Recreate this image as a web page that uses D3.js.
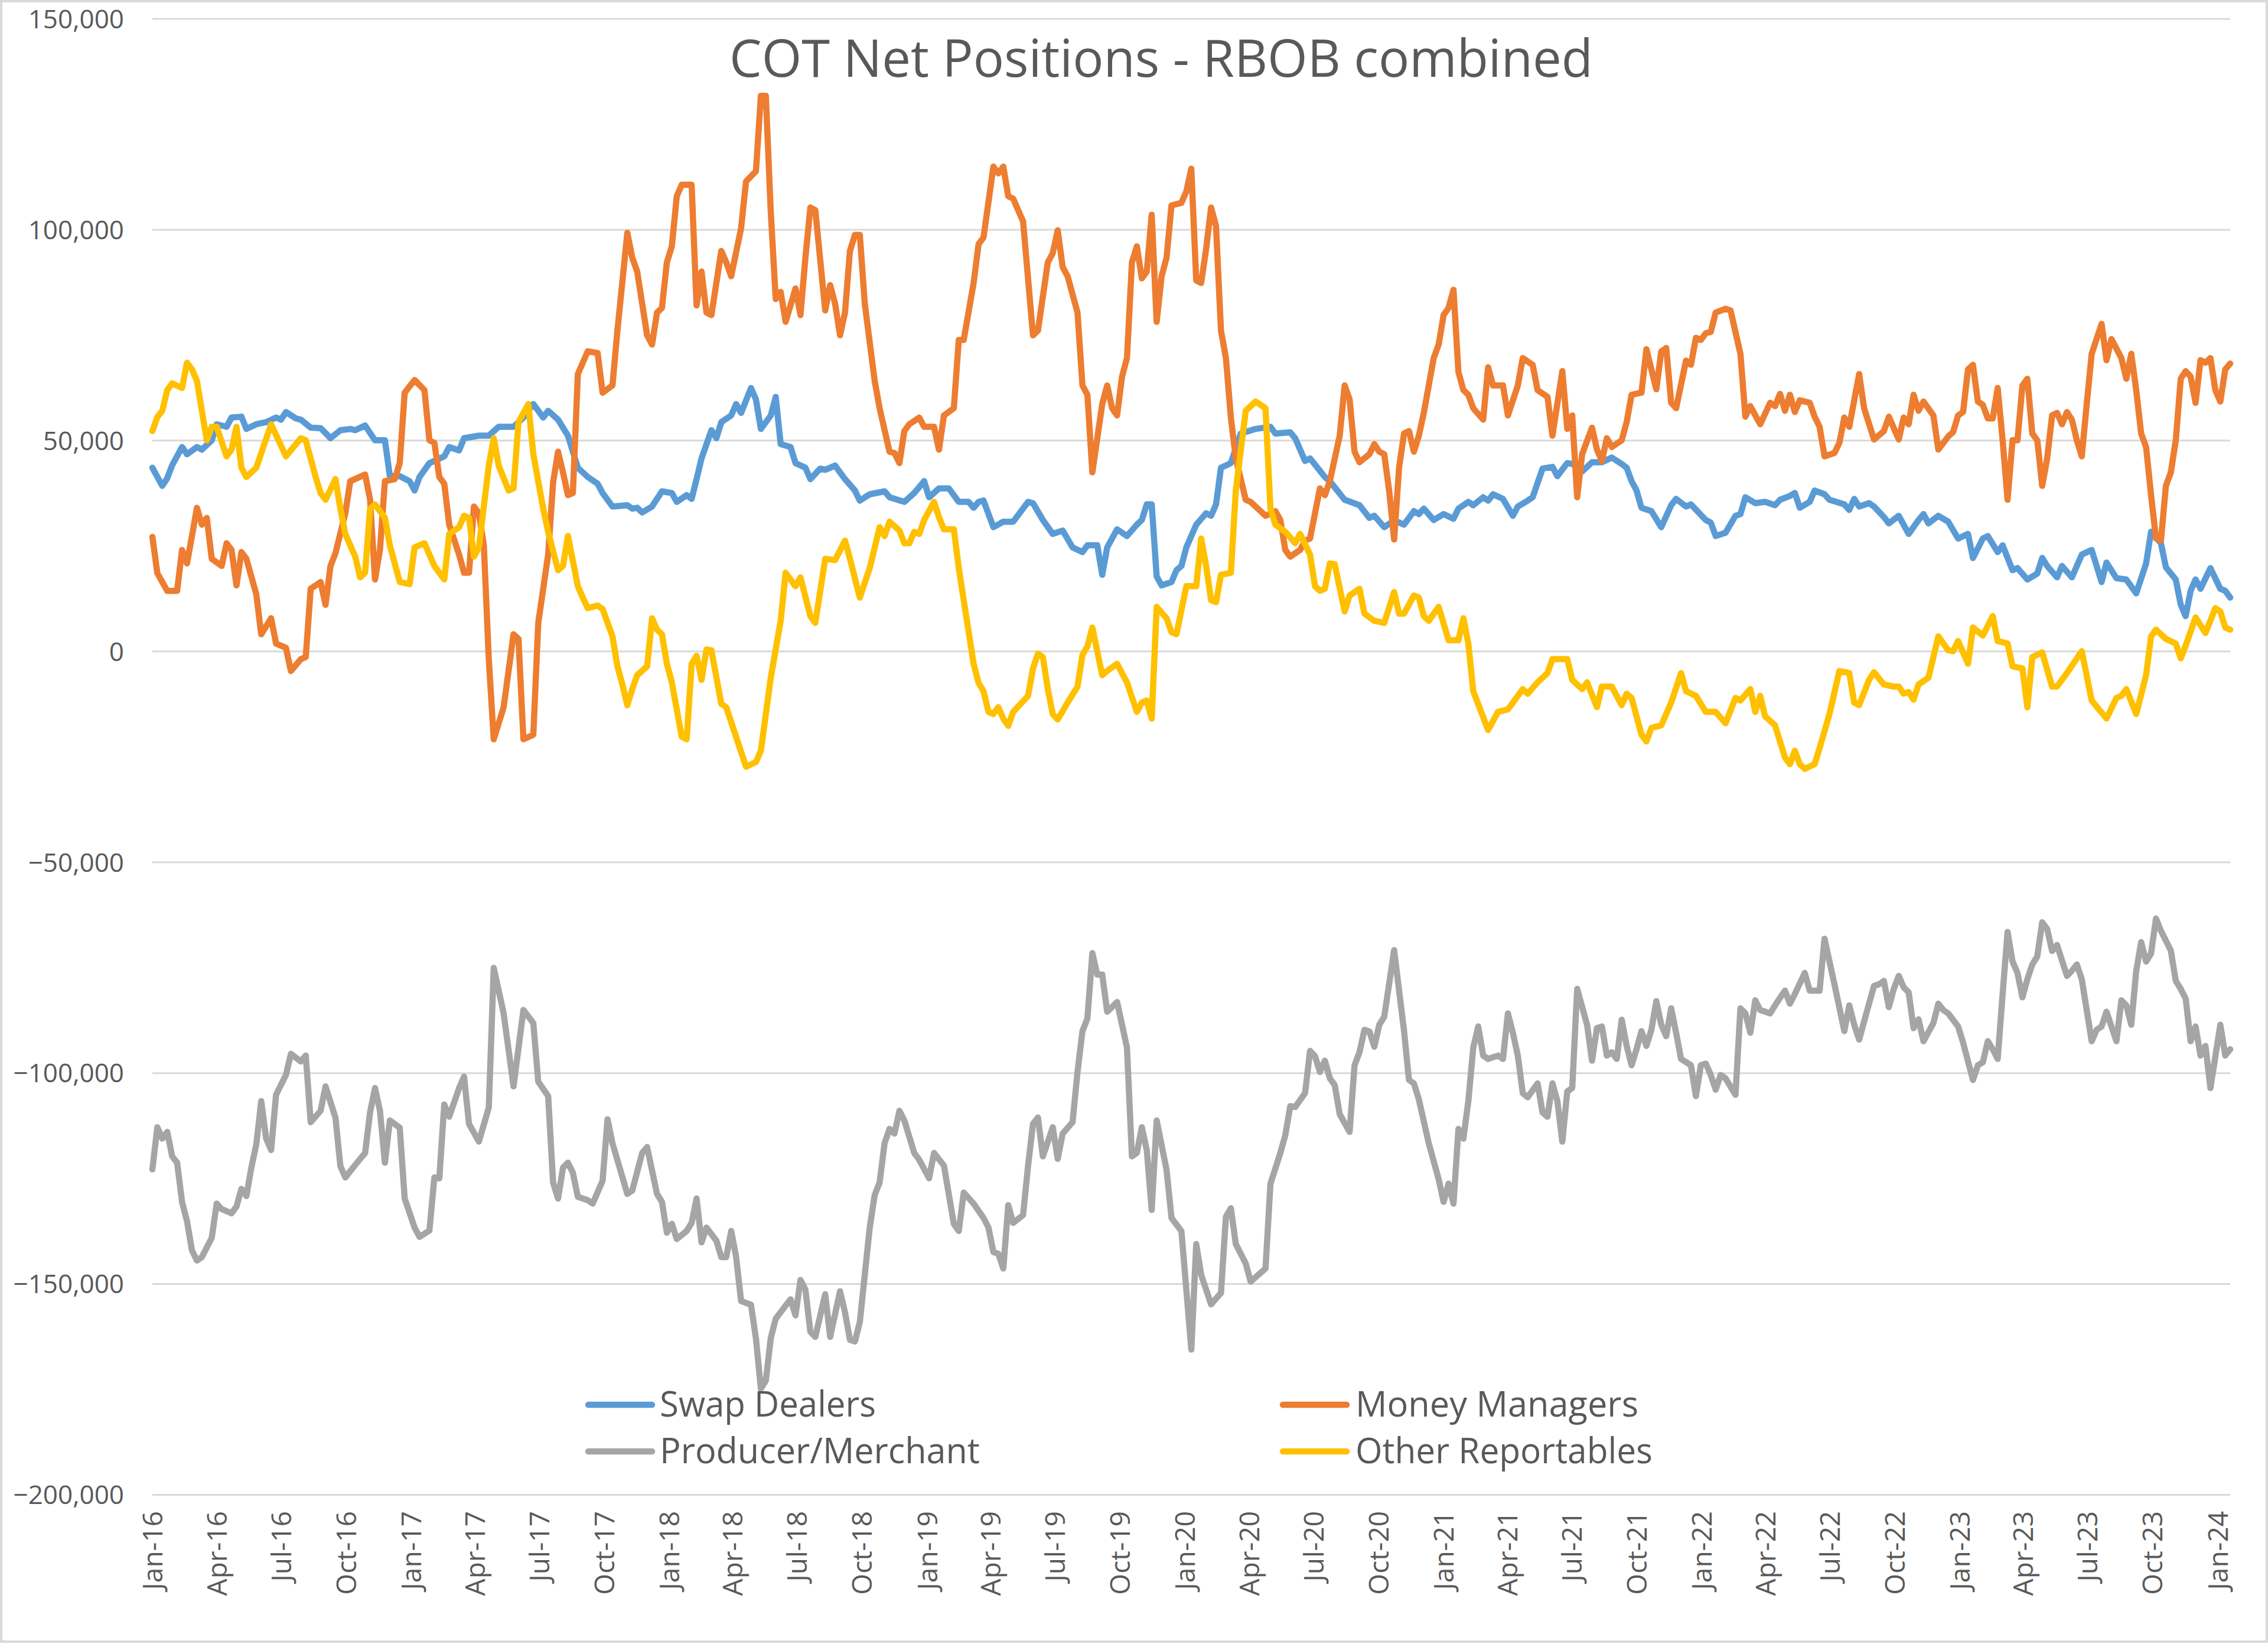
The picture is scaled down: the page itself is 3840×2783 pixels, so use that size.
<!DOCTYPE html>
<html><head><meta charset="utf-8">
<script src="https://cdn.jsdelivr.net/npm/d3@7"></script>
<style>html,body{margin:0;padding:0;background:#fff}svg{display:block}</style>
</head><body>
<script>
// ---------- DATA (weekly COT reports, week index counted from 5 Jan 2016) ----------
const startDateStr = "2016-01-05";
const lastWeek = 420;
const tickLabels = ["Jan-16","Apr-16","Jul-16","Oct-16","Jan-17","Apr-17","Jul-17","Oct-17","Jan-18","Apr-18","Jul-18","Oct-18","Jan-19","Apr-19","Jul-19","Oct-19","Jan-20","Apr-20","Jul-20","Oct-20","Jan-21","Apr-21","Jul-21","Oct-21","Jan-22","Apr-22","Jul-22","Oct-22","Jan-23","Apr-23","Jul-23","Oct-23","Jan-24"];
const yTickValues = [150000,100000,50000,0,-50000,-100000,-150000,-200000];
const seriesNames = ["Swap Dealers","Money Managers","Producer/Merchant","Other Reportables"];
const seriesColors = ["#5B9BD5","#ED7D31","#A5A5A5","#FFC000"];

const swapWeeks = [0,2,3,4,6,7,9,10,12,13,15,16,18,19,21,23,25,26,27,29,30,32,34,36,38,40,41,43,45,47,48,50,52,53,54,56,59,60,62,63,66,68,70,73,75,77,79,80,82,84,86,88,90,91,93,96,97,98,99,101,103,105,106,108,109,110,111,113,114,115,117,118,119,121,122,123,125,126,127,129,130,132,133,135,136,138,140,142,143,145,148,149,152,154,156,157,159,161,163,165,166,167,168,170,172,174,177,178,180,182,184,186,188,189,191,192,193,195,197,199,200,201,202,203,204,206,207,208,209,211,213,214,215,216,218,220,223,226,227,230,231,233,234,237,238,241,244,246,247,249,251,253,255,256,257,259,261,263,264,266,267,269,270,271,273,275,276,278,279,281,283,284,286,287,289,291,293,295,297,298,299,300,301,303,305,307,308,310,311,314,315,316,318,320,321,322,324,326,328,329,331,332,333,335,336,338,339,342,343,344,345,347,348,350,351,353,355,357,358,359,361,363,365,367,368,370,371,373,374,376,377,379,381,382,383,385,386,388,390,392,394,395,397,399,401,403,404,406,407,409,410,411,412,413,414,416,418,419,420];
const swapValues = [43500,39200,41000,44100,48400,46700,48400,47800,50000,53800,53200,55400,55600,52700,53800,54300,55400,54900,56700,55200,54900,53000,52900,50500,52400,52700,52400,53500,50000,50000,41500,41500,40300,38100,41300,44600,46200,48400,47600,50500,51100,51100,53200,53200,55400,58600,55400,57000,54900,51100,43500,41300,39700,37500,34300,34600,33800,34000,32900,34300,37900,37500,35400,37000,36100,40800,45700,52400,50500,54300,55900,58600,56500,62400,59700,52700,55900,60300,49100,48400,44600,43500,40800,43300,43000,44000,40800,38100,35700,37200,37900,36500,35400,37500,40300,36500,38600,38600,35400,35400,34000,35400,35700,29400,30700,30700,35400,35100,31100,27800,28600,24600,23500,25100,25100,18100,24600,28900,27300,30000,31100,34800,34800,17700,15600,16400,19200,20200,24600,30000,32700,32100,34800,43500,44600,51600,52700,53200,51600,51900,50500,45100,45700,41300,40300,35900,34600,31600,32100,29400,31000,30000,33200,32500,33800,31100,32500,31400,33800,35400,34600,36500,35700,37200,36100,32100,34300,35700,36500,43300,43700,41500,44600,44400,42600,44800,44800,45900,44400,43500,40300,38100,34000,33200,29400,34600,36100,34300,34800,31100,30500,27300,28100,32100,32500,36500,35100,35400,34600,35900,36800,37500,34000,35400,38100,37200,35900,34800,33500,36100,34300,35100,34300,31800,30300,32100,27800,31100,32500,30300,32100,30700,26700,27800,22100,26700,27300,23500,25100,19200,19700,17000,18400,22100,20200,17500,20200,17500,22900,24000,16400,21000,17300,17000,13700,20800,28300,25600,19900,17000,11000,8300,14300,17000,14800,19700,14800,14300,12700];

const mmWeeks = [0,1,3,5,6,7,8,9,10,11,12,14,15,16,17,18,19,21,22,24,25,27,28,30,31,32,34,35,36,37,39,40,43,44,45,46,47,49,50,51,53,55,56,57,58,59,60,62,63,64,65,66,67,68,69,71,73,74,75,77,78,80,81,82,83,84,85,86,88,90,91,93,94,96,97,98,100,101,102,103,104,105,106,107,109,110,111,112,113,115,116,117,119,120,122,123,124,125,126,127,128,130,131,132,133,134,136,137,138,139,140,141,142,143,144,146,147,149,150,151,152,153,155,156,158,159,160,162,163,164,166,167,168,170,171,172,173,174,176,178,179,181,182,183,184,185,187,188,189,190,192,193,194,195,196,197,198,199,200,201,202,203,204,205,206,208,209,210,211,212,213,214,215,216,217,218,219,221,222,224,225,227,228,229,230,232,233,234,236,237,238,240,241,242,243,244,246,247,248,249,250,251,252,253,254,255,256,257,259,260,261,262,263,264,265,266,267,269,270,271,273,274,276,277,279,280,282,283,285,286,287,288,289,291,292,293,294,295,297,298,299,301,302,304,305,306,307,308,310,311,312,313,314,315,316,318,319,321,322,323,325,327,328,329,330,331,332,333,335,336,337,338,340,341,342,343,345,346,348,350,351,353,354,355,356,357,358,360,361,363,364,365,366,367,368,369,370,371,372,373,374,375,376,377,378,379,380,381,382,383,384,385,386,387,388,389,390,391,392,394,395,396,398,399,400,401,402,403,404,405,406,407,408,409,410,411,412,413,414,415,416,417,418,419,420];
const mmValues = [27100,18500,14300,14300,24000,20800,27300,34000,30000,31600,21900,20200,25600,24000,15600,23500,21900,13500,4000,7800,1800,800,-4700,-1900,-1400,14800,16400,11000,20200,23200,32700,40300,41900,36000,17000,24000,40300,40800,44600,61300,64300,61900,50000,49400,41300,39700,30000,22900,18600,18600,34300,32700,25100,-1900,-20900,-13300,4000,2900,-20900,-19800,6700,22900,40000,47300,42400,37000,37500,65700,71100,70700,61300,63000,76000,99200,93300,90000,74900,72700,80300,81400,92200,96000,107900,110600,110600,82000,90000,80300,79700,94900,92200,88900,100300,111400,113800,131700,131700,104100,83500,85200,78100,86000,79700,93300,105200,104600,80800,86800,82400,74900,80300,94900,98700,98700,82400,64100,57600,47300,47000,44600,52200,53800,55400,53200,53200,47800,55900,57600,73800,73800,87300,96500,98100,114900,113300,114900,107900,107300,101900,74900,76000,92200,94400,99800,91100,88900,80300,63000,60800,42400,58600,63000,57600,55900,65100,69500,92200,96000,88400,90000,103500,78100,88900,93300,105700,106300,109000,114400,87900,87300,95400,105200,100800,76000,69500,55400,45700,35900,35400,33200,32100,33200,31100,24000,22400,24000,26200,26700,38600,37000,40300,51100,63000,59700,47300,44800,46700,49100,47300,46700,38000,26500,43500,51600,52200,47300,51100,56500,69500,72700,79700,81400,85700,66200,61900,60800,57600,54900,67300,63000,63000,55900,63000,69500,67900,61900,60300,51100,66400,52700,55900,36500,46700,53000,47800,45100,50500,48400,50000,54300,60800,61300,71600,62100,71100,71900,58900,57600,68900,67900,74300,73800,75400,75700,80300,81200,80800,70500,55600,58100,53800,58900,58100,61000,57000,60800,56700,59500,58900,55600,53200,46200,47000,49400,55400,53200,65700,57600,50200,52200,55600,50200,55400,53800,60800,57000,59200,55900,47800,50900,52000,55900,56700,66800,67900,59200,58400,55200,55200,62400,50000,35900,50000,50000,63000,64600,51600,50000,39200,45700,55900,56500,53800,56700,54900,50000,46200,58600,70500,77600,69000,74000,69500,64600,70500,61900,51600,48400,37000,26700,26200,39200,42400,50000,64600,66400,65100,58900,69000,68400,69500,61900,59200,66800,68200];

const prodWeeks = [0,1,2,3,4,5,6,7,8,9,10,12,13,14,16,17,18,19,20,21,22,23,24,25,27,28,30,31,32,34,35,37,38,39,40,42,43,44,45,46,47,48,50,51,53,54,56,57,58,59,60,62,63,64,66,68,69,71,73,75,77,78,80,81,82,83,84,85,86,88,89,91,92,93,96,97,99,100,102,103,104,105,106,108,109,110,111,112,114,115,116,117,118,119,121,122,123,124,125,126,128,129,130,131,132,133,134,136,137,139,140,141,142,143,145,146,147,148,149,150,151,152,154,155,157,158,160,162,163,164,166,168,169,170,171,172,173,174,176,177,178,179,180,182,183,184,186,187,188,189,190,191,192,193,195,197,198,199,200,201,202,203,205,206,208,209,210,211,212,214,216,217,218,219,221,222,225,226,228,229,230,231,233,234,235,236,237,238,239,240,242,243,244,245,246,247,248,249,251,253,254,255,256,258,260,261,262,263,264,265,266,267,268,269,270,272,273,274,275,276,277,278,280,281,282,283,284,285,286,287,288,289,290,291,292,293,294,295,296,297,298,299,300,301,302,303,304,305,306,307,308,309,311,312,313,314,315,316,317,318,320,321,322,323,324,325,327,328,330,331,332,334,335,337,338,340,342,343,344,345,346,348,349,350,351,352,353,354,355,356,357,358,360,361,362,363,365,366,368,369,370,371,372,373,374,375,376,377,378,379,380,381,382,383,384,385,387,388,389,390,392,393,394,395,397,398,399,400,401,402,403,404,405,406,408,409,410,411,412,413,414,415,416,418,419,420];
const prodValues = [-122900,-112900,-115600,-114000,-119800,-121300,-130600,-135200,-142100,-144500,-143700,-139100,-131000,-132300,-133300,-131700,-127500,-129200,-122500,-117000,-106700,-115600,-118300,-105200,-100500,-95500,-97300,-95900,-111700,-109000,-103200,-110600,-122100,-124800,-123300,-120400,-119000,-109400,-103600,-109000,-121300,-111300,-113000,-129800,-136700,-138900,-137400,-124800,-125000,-107500,-110400,-103600,-100900,-112100,-116300,-108200,-75100,-85900,-103200,-85100,-88200,-102100,-105500,-126000,-129800,-122500,-121300,-123700,-129400,-130200,-131000,-125600,-111000,-116700,-128700,-127900,-119000,-117600,-128700,-130600,-137900,-135800,-139400,-137500,-135600,-129800,-140200,-136700,-139800,-143700,-143700,-137500,-143700,-154100,-155000,-163000,-174900,-173000,-162900,-158300,-155200,-153700,-157500,-149100,-151400,-161400,-162600,-152500,-162600,-151800,-156800,-163300,-163700,-159100,-136700,-129000,-126000,-116700,-113300,-114400,-109000,-111300,-119000,-120600,-125000,-119000,-122000,-135800,-137500,-128400,-131000,-134400,-136700,-142500,-142900,-146400,-131400,-135600,-133700,-122100,-112100,-110600,-119800,-112900,-120400,-114400,-111700,-99800,-90100,-87100,-71600,-76700,-76700,-85500,-83200,-94000,-119800,-119000,-112900,-118300,-132500,-111300,-123000,-134400,-137500,-151400,-165600,-140600,-147900,-154900,-152200,-134100,-132100,-140600,-145200,-149500,-146400,-126300,-119000,-114800,-107900,-108100,-104800,-94800,-96000,-99800,-97100,-101300,-102900,-109800,-114000,-98200,-95100,-89800,-90200,-93800,-88600,-86700,-70900,-90000,-101700,-102500,-106300,-116700,-125200,-130600,-126300,-131000,-113300,-115600,-106700,-94000,-89000,-95900,-96700,-95900,-96700,-85900,-90500,-95900,-104800,-105800,-102500,-109400,-110400,-102500,-106700,-116300,-104400,-103600,-80100,-84300,-88600,-97100,-89400,-89000,-95900,-95100,-96700,-87400,-93600,-98200,-94400,-90100,-93600,-89800,-83000,-88600,-91300,-84700,-90500,-96700,-98200,-105500,-98200,-97800,-100500,-104000,-100500,-101300,-105200,-84700,-85900,-90500,-82800,-85100,-85900,-84000,-80500,-83600,-81300,-76300,-80500,-80500,-68200,-79000,-90100,-84000,-88600,-92100,-87800,-79400,-79000,-78200,-84400,-80100,-77000,-79700,-80900,-89400,-87300,-92500,-88200,-83600,-85100,-85900,-89000,-92800,-101700,-98200,-97500,-92500,-94400,-96700,-81300,-66600,-73600,-76300,-82100,-77800,-74300,-72400,-64300,-65900,-71100,-69700,-77000,-75800,-74300,-77800,-92500,-89800,-89000,-85500,-92500,-82800,-84000,-88600,-75900,-69000,-73600,-71700,-63400,-66300,-71000,-78200,-80100,-82400,-92500,-89000,-95900,-93600,-103600,-88600,-95900,-94400];

const otherWeeks = [0,1,2,3,4,6,7,8,9,10,11,12,13,15,16,17,18,19,21,24,27,30,31,33,34,35,37,38,39,41,42,43,44,45,47,48,50,52,53,55,57,59,60,62,63,64,65,66,68,69,70,72,73,74,76,77,79,80,82,83,84,86,87,88,90,91,93,94,95,96,97,98,100,101,102,103,104,105,107,108,109,110,111,112,113,115,116,120,122,123,125,127,128,130,131,133,134,136,138,140,141,143,145,147,148,149,151,152,153,154,155,156,158,159,160,162,163,164,166,167,168,169,170,171,172,173,174,177,178,179,180,181,182,183,185,187,188,189,190,192,193,195,196,197,199,200,201,202,203,205,206,207,209,211,212,213,214,215,216,218,219,221,223,225,226,227,229,231,232,234,235,236,237,238,239,241,242,244,245,247,249,251,252,253,255,256,257,258,260,262,264,265,266,267,268,270,272,274,277,278,280,282,283,286,287,289,290,292,293,295,297,298,299,301,302,303,305,307,309,310,312,314,316,318,320,321,323,324,325,326,328,330,331,332,333,334,336,337,339,341,343,344,345,347,348,350,352,353,354,355,356,357,359,361,363,364,365,367,368,370,372,373,375,376,378,379,380,382,384,385,387,390,392,395,397,398,399,401,403,404,405,407,409,410,411,413,415,417,418,419,420];
const otherValues = [52200,55500,57000,61900,63500,62400,68400,66800,64100,57000,50000,53200,53200,46200,47800,53200,43500,41300,43500,53800,46200,50500,50000,41300,37500,35900,40800,33800,27800,22400,17500,18600,33800,34800,31600,25100,16400,15900,24600,25600,20200,17000,27800,29400,32100,31600,22400,24600,44000,50500,44000,38100,38600,54300,58600,46700,33800,28300,19200,20200,27300,15400,12700,10200,10800,10000,3500,-3600,-7900,-12800,-9000,-5700,-3600,7800,5100,4000,-3000,-7400,-20300,-20900,-3000,-1100,-6800,400,200,-12500,-13300,-27400,-26300,-23600,-6300,7200,18600,15400,17500,8300,6700,21900,21600,26200,21900,12700,19700,29400,27300,30700,28600,25600,25600,28300,27800,31100,35400,31800,28900,28900,19700,12100,-3000,-7500,-9500,-14400,-14900,-13300,-16000,-17700,-14400,-10600,-4100,-600,-1400,-9000,-14900,-16200,-12200,-8400,-900,1100,5600,-5700,-4700,-3000,-5200,-7400,-14400,-12200,-11700,-16000,10500,7800,4500,4000,15400,15400,26700,20200,12100,11600,18100,18600,38100,57000,59200,57600,33800,30000,28300,25600,27800,22900,15400,14300,14800,20800,20600,9400,13200,14800,8900,7200,6700,14000,8900,8900,13200,12700,8300,7200,10500,2600,2600,7800,1800,-9500,-12600,-18700,-14400,-13800,-9000,-10100,-7400,-5200,-1900,-1900,-6800,-9000,-7400,-13300,-8400,-8400,-12800,-10100,-11100,-19800,-21400,-18200,-17600,-12200,-5200,-9500,-10600,-14400,-14400,-17100,-11100,-11700,-9000,-14400,-10600,-15500,-17600,-25200,-26800,-23600,-26800,-27900,-26800,-23000,-14900,-4700,-5200,-12200,-12800,-6800,-5000,-7900,-8400,-8400,-10100,-9700,-11500,-7900,-6300,3500,200,0,2400,-3000,5600,3700,8300,2400,1800,-3600,-4100,-13300,-1400,-300,-8400,-8400,-5200,0,-11700,-16000,-11100,-10600,-9000,-14900,-5700,3500,5100,2900,1800,-1700,1300,8000,4300,10200,9400,5600,5100];

// ---------- LAYOUT ----------
const W = 3840, H = 2783;
const plotLeft = 258, plotRight = 3776, plotTop = 31.5, plotBottom = 2530;
const FONT = "'Open Sans','Noto Sans','DejaVu Sans',sans-serif";
const TXT = "#595959";
const LINE_W = 10.5;

const svg = d3.select("body").append("svg").attr("width", W).attr("height", H)
  .attr("viewBox", `0 0 ${W} ${H}`);
svg.append("rect").attr("width", W).attr("height", H).attr("fill", "#ffffff");
svg.append("rect").attr("x", 2).attr("y", 2).attr("width", W - 4).attr("height", H - 6)
  .attr("fill", "none").attr("stroke", "#d9d9d9").attr("stroke-width", 4);

const start = d3.utcParse("%Y-%m-%d")(startDateStr);
const weekDate = w => d3.utcDay.offset(start, 7 * w);
const x = d3.scaleUtc().domain([start, weekDate(lastWeek)]).range([plotLeft, plotRight]);
const y = d3.scaleLinear().domain([-200000, 150000]).range([plotBottom, plotTop]);

// y axis with gridlines
const yAxis = d3.axisLeft(y).tickValues(yTickValues).tickFormat(d3.format(","))
  .tickSize(-(plotRight - plotLeft)).tickPadding(48);
const gy = svg.append("g").attr("transform", `translate(${plotLeft},0)`).call(yAxis);
gy.select(".domain").remove();
gy.selectAll(".tick line").attr("stroke", "#d9d9d9").attr("stroke-width", 3);
gy.selectAll(".tick text").attr("fill", TXT).attr("font-family", FONT)
  .attr("font-size", 44).attr("dy", "0.36em");

// x axis with rotated labels
const tickDates = tickLabels.map((_, i) => d3.utcMonth.offset(start, 3 * i));
const xAxis = d3.axisBottom(x).tickValues(tickDates).tickFormat((d, i) => tickLabels[i]).tickSize(0);
const gx = svg.append("g").attr("transform", `translate(0,${plotBottom})`).call(xAxis);
gx.select(".domain").remove();
gx.selectAll(".tick text").attr("fill", TXT).attr("font-family", FONT).attr("font-size", 46)
  .attr("transform", "rotate(-90)").attr("text-anchor", "end")
  .attr("x", -28).attr("y", 0).attr("dy", "0.36em");

// series
const series = [
  {weeks: swapWeeks, values: swapValues},
  {weeks: mmWeeks, values: mmValues},
  {weeks: prodWeeks, values: prodValues},
  {weeks: otherWeeks, values: otherValues}
].map((s, i) => ({name: seriesNames[i], color: seriesColors[i],
  points: s.weeks.map((w, j) => ({date: weekDate(w), value: s.values[j]}))}));

const line = d3.line().x(d => x(d.date)).y(d => y(d.value));
svg.append("g").selectAll("path").data(series).join("path")
  .attr("d", d => line(d.points)).attr("fill", "none")
  .attr("stroke", d => d.color).attr("stroke-width", LINE_W)
  .attr("stroke-linejoin", "round").attr("stroke-linecap", "round");

// title
svg.append("text").attr("x", 1966).attr("y", 130).attr("text-anchor", "middle")
  .attr("font-family", FONT).attr("font-size", 87).attr("fill", TXT)
  .attr("textLength", 1462).attr("lengthAdjust", "spacingAndGlyphs")
  .text("COT Net Positions - RBOB combined");

// legend (2 columns x 2 rows)
const legendPos = [
  {mx: 996, tx: 1117, y: 2378, len: 366},
  {mx: 2172, tx: 2295, y: 2378, len: 479},
  {mx: 996, tx: 1117, y: 2457, len: 542},
  {mx: 2172, tx: 2295, y: 2457, len: 503}
];
const lg = svg.append("g").selectAll("g").data(series).join("g");
lg.append("line").attr("x1", (d, i) => legendPos[i].mx).attr("x2", (d, i) => legendPos[i].mx + 108)
  .attr("y1", (d, i) => legendPos[i].y).attr("y2", (d, i) => legendPos[i].y)
  .attr("stroke", d => d.color).attr("stroke-width", LINE_W).attr("stroke-linecap", "round");
lg.append("text").attr("x", (d, i) => legendPos[i].tx).attr("y", (d, i) => legendPos[i].y + 20)
  .attr("font-family", FONT).attr("font-size", 60).attr("fill", TXT)
  .attr("textLength", (d, i) => legendPos[i].len).attr("lengthAdjust", "spacingAndGlyphs")
  .text(d => d.name);
</script>
</body></html>
